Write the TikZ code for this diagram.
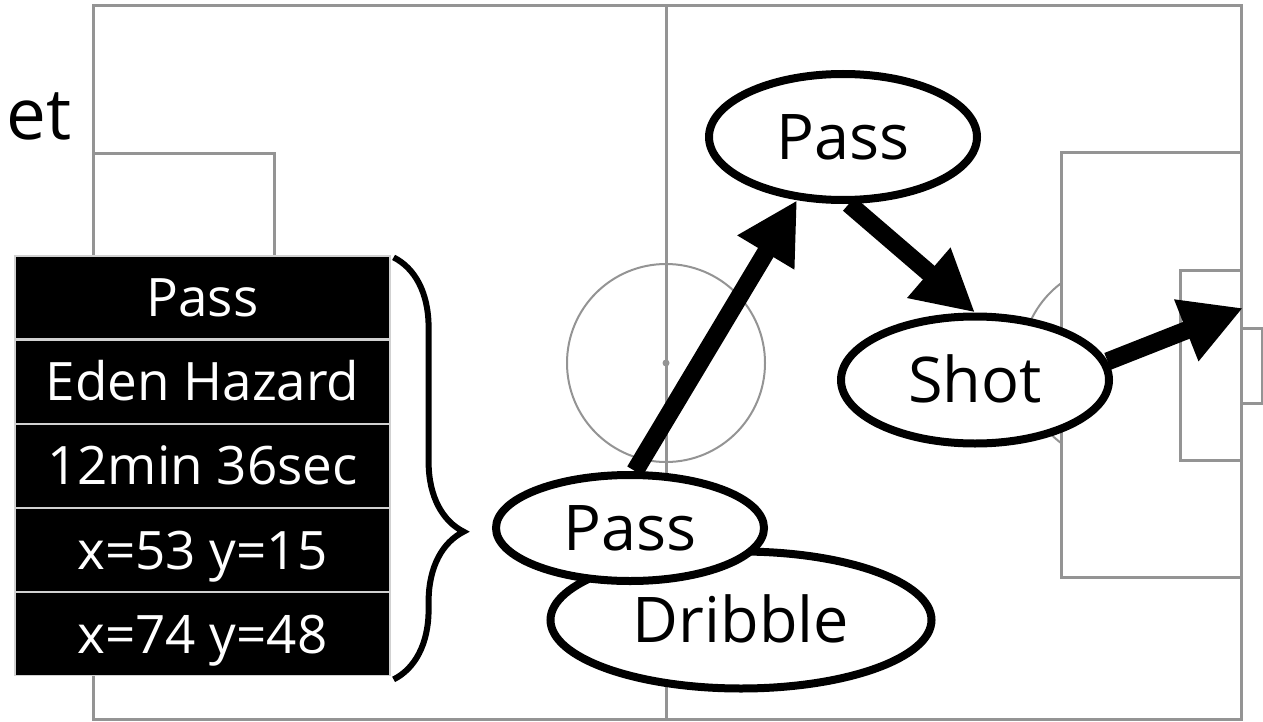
\documentclass[tikz,border=0pt]{standalone}
\usepackage{fontspec}
\setmainfont{Open Sans}
\usetikzlibrary{arrows.meta,positioning,shapes.geometric,decorations.pathreplacing}

\begin{document}
\begin{tikzpicture}[
  x=0.5pt, y=-0.5pt,
  pitch/.style={draw=black!42, line width=1.5pt},
  cell/.style={rectangle, fill=black, draw=black!18, line width=0.6pt, text=white, minimum width=187.5pt, minimum height=41.5pt, inner sep=0pt, text height=19pt, text depth=0pt, font=\fontsize{26.5pt}{30pt}\selectfont},
  evt/.style={ellipse, draw=black, fill=white, line width=4pt, inner sep=0pt, text height=22.5pt, text depth=0pt, font=\fontsize{31.5pt}{36pt}\selectfont},
  flow/.style={line width=9pt, -{Triangle[length=30.5pt, width=31pt]}},
]
\useasboundingbox (0,0) rectangle (1263,722);
% pitch
\draw[pitch] (93,6) rectangle (1241,719);
\draw[pitch] (666,6) -- (666,719);
\draw[pitch, line width=1pt] (666,363) circle[radius=99];
\fill[black!42] (666,363) circle[radius=3.5];
\draw[pitch] (93,153) rectangle (274,576);
\draw[pitch] (1061,152) rectangle (1241,577);
\draw[pitch] (1180,270) rectangle (1241,460);
\draw[pitch] (1241,328) rectangle (1262,403);
\draw[pitch, line width=1pt] (1061,443) arc[start angle=127, end angle=233, radius=100];
\node[font=\fontsize{35.5pt}{40pt}\selectfont, anchor=base east, inner sep=0pt] (ttl) at (72,140) {et};
% event record
\node[cell] (r1) at (202.5,297.5) {Pass};
\node[cell, below=0pt of r1] (r2) {Eden Hazard};
\node[cell, below=0pt of r2] (r3) {12min 36sec};
\node[cell, below=0pt of r3] (r4) {x=53 y=15};
\node[cell, below=0pt of r4] (r5) {x=74 y=48};
\draw[line width=3pt, decorate, decoration={brace, amplitude=35pt, aspect=0.65}]
  ([xshift=1.5pt, yshift=-1pt]r1.north east) -- ([xshift=1.5pt, yshift=-1.5pt]r5.south east);
% events
\node[evt, minimum width=190.5pt, minimum height=68.5pt] (drb) at (741,620) {Dribble};
\node[evt, minimum width=134pt, minimum height=53pt] (pbot) at (630,528) {Pass};
\node[evt, minimum width=134pt, minimum height=63pt] (ptop) at (843,137) {Pass};
\node[evt, minimum width=134pt, minimum height=63.5pt] (shot) at (975,380) {Shot};
\coordinate (aim) at (1243,308);
\draw[flow] (pbot.85) -- (ptop.234);
\draw[flow] (ptop.275) -- (shot.north);
\draw[flow] (shot.8) -- (aim);
\end{tikzpicture}
\end{document}
